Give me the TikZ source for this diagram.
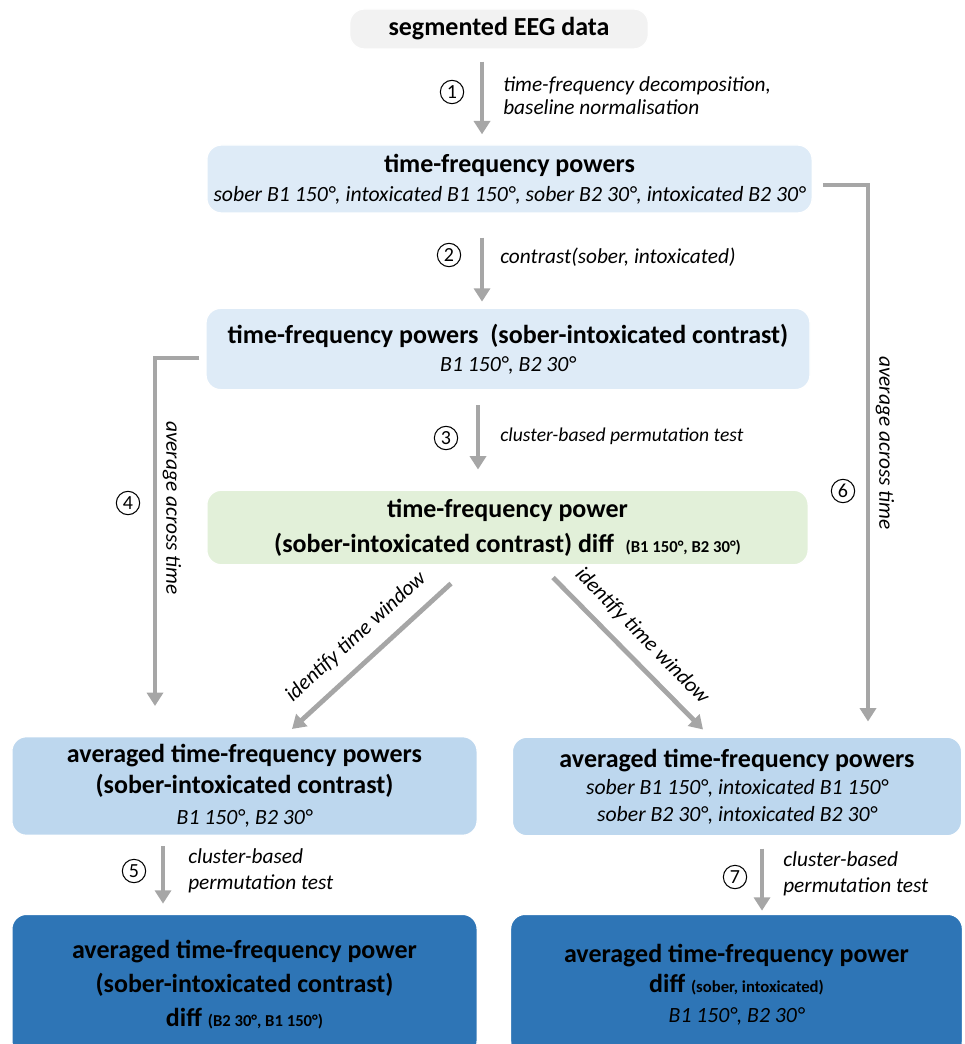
\documentclass[tikz,border=0pt]{standalone}
\usepackage{fontspec}
\setmainfont{Carlito}
\usetikzlibrary{arrows.meta,positioning,calc}
\definecolor{boxgray}{HTML}{F2F2F2}
\definecolor{boxlight}{HTML}{DEEBF7}
\definecolor{boxgreen}{HTML}{E2F0D9}
\definecolor{boxmid}{HTML}{BDD7EE}
\definecolor{boxdark}{HTML}{2E75B6}
\definecolor{arrgray}{HTML}{A6A6A6}
\newcommand{\ttlf}{\fontsize{19.5}{22}\selectfont\bfseries}
\newcommand{\subf}{\fontsize{16.3}{19}\selectfont\itshape}
\newcommand{\smf}{\fontsize{12.5}{14}\selectfont\bfseries}
\begin{document}
\begin{tikzpicture}[x=0.75pt,y=-0.75pt,
  box/.style={rounded corners=11pt,align=center,inner sep=0pt,draw=white,line width=1pt},
  arr/.style={draw=arrgray,line width=3.6pt,-{Triangle[width=12pt,length=10pt]}},
  lab/.style={font=\fontsize{16}{17.25}\selectfont\itshape,align=left,inner sep=0pt},
  num/.style={circle,draw,line width=0.8pt,minimum size=17.5pt,inner sep=0pt,font=\fontsize{15}{15}\selectfont}
  ]
\useasboundingbox (0,0) rectangle (964,1044);
% boxes
\node[box,fill=boxgray,minimum width=224pt,minimum height=30pt,font=\ttlf] (seg) at (499,29) {segmented EEG data};
\node[box,fill=boxlight,minimum width=454pt,minimum height=51pt,font=\fontsize{16.3}{21.75}\selectfont] (tfp) at (509.5,179)
  {{\ttlf time-frequency powers}\\
   {\subf sober B1 150°, intoxicated B1 150°, sober B2 30°, intoxicated B2 30°}};
\node[box,fill=boxlight,minimum width=453pt,minimum height=61pt,font=\fontsize{16.3}{21}\selectfont] (tfc) at (508,349)
  {{\ttlf time-frequency powers\ \ (sober-intoxicated contrast)}\\
   {\subf B1 150°, B2 30°}};
\node[box,fill=boxgreen,minimum width=451pt,minimum height=56pt,font=\fontsize{19.5}{26}\selectfont\bfseries] (grn) at (507.5,527.5)
  {time-frequency power\\
   (sober-intoxicated contrast) diff\ \ {\smf (B1 150°, B2 30°)}};
\node[box,fill=boxmid,minimum width=349pt,minimum height=74pt,font=\fontsize{19.5}{23.25}\selectfont] (avgL) at (244.5,786)
  {{\ttlf averaged time-frequency powers}\\
   {\ttlf (sober-intoxicated contrast)}\\
   {\subf B1 150°, B2 30°}};
\node[box,fill=boxmid,minimum width=337pt,minimum height=74pt,font=\fontsize{16.3}{20.25}\selectfont] (avgR) at (737,786.5)
  {{\ttlf averaged time-frequency powers}\\
   {\subf sober B1 150°, intoxicated B1 150°}\\
   {\subf sober B2 30°, intoxicated B2 30°}};
\node[box,fill=boxdark,minimum width=349pt,minimum height=106pt,font=\fontsize{19.5}{25.5}\selectfont\bfseries] (botL) at (244.5,985)
  {averaged time-frequency power\\
   (sober-intoxicated contrast)\\
   diff {\smf (B2 30°, B1 150°)}};
\node[box,fill=boxdark,minimum width=339pt,minimum height=106pt,font=\fontsize{19.5}{22.5}\selectfont] (botR) at (736.5,985)
  {{\ttlf averaged time-frequency power}\\
   {\ttlf diff {\smf (sober, intoxicated)}}\\
   {\subf B1 150°, B2 30°}};
% arrows
\draw[arr] ([shift={(-17,12)}]seg.south) -- ([shift={(-27.5,-10)}]tfp.north);
\draw[arr] ([shift={(-27.5,24)}]tfp.south) -- ([shift={(-26,-6)}]tfc.north);
\draw[arr] ([shift={(-30,15)}]tfc.south) -- ([shift={(-29.5,-20)}]grn.north);
\draw[arr] ([shift={(-6,9)}]tfc.west) -| ([shift={(-89.5,-30)}]avgL.north);
\draw[arr] ([shift={(10,6)}]tfp.east) -| ([shift={(131,-15)}]avgR.north);
\draw[arr] ([shift={(-56.5,18)}]grn.south) -- ([shift={(47.5,-7)}]avgL.north);
\draw[arr] ([shift={(45.5,12)}]grn.south) -- ([shift={(-34,-7)}]avgR.north);
\draw[arr] ([shift={(-81.5,10)}]avgL.south) -- ([shift={(-81.5,-10)}]botL.north);
\draw[arr] ([shift={(25,12)}]avgR.south) -- ([shift={(25.5,-3)}]botR.north);
% numbers
\node[num] (n1) at (452,92) {1};
\node[num] (n2) at (449,255) {2};
\node[num] (n3) at (446,438) {3};
\node[num] (n4) at (128,503) {4};
\node[num] (n5) at (134,871) {5};
\node[num] (n6) at (843,491) {6};
\node[num] (n7) at (735,877) {7};
% labels
\node[lab,anchor=west] (l1) at (503,96) {time-frequency decomposition,\\baseline normalisation};
\node[lab,anchor=west] (l2) at (500,257) {contrast(sober, intoxicated)};
\node[lab,anchor=west,font=\fontsize{14.7}{17}\selectfont\itshape] (l3) at (500,436) {cluster-based permutation test};
\node[lab,rotate=-90] (l4) at (172,508) {average across time};
\node[lab,rotate=-90] (l6) at (885,443) {average across time};
\node[lab,rotate=42.4] (ldl) at (356,637) {identify time window};
\node[lab,rotate=-45.6] (ldr) at (642,636) {identify time window};
\node[lab,anchor=west,font=\fontsize{16}{19.5}\selectfont\itshape] (l5) at (188,871) {cluster-based\\permutation test};
\node[lab,anchor=west,font=\fontsize{16}{19.5}\selectfont\itshape] (l7) at (783,874) {cluster-based\\permutation test};
\end{tikzpicture}
\end{document}
